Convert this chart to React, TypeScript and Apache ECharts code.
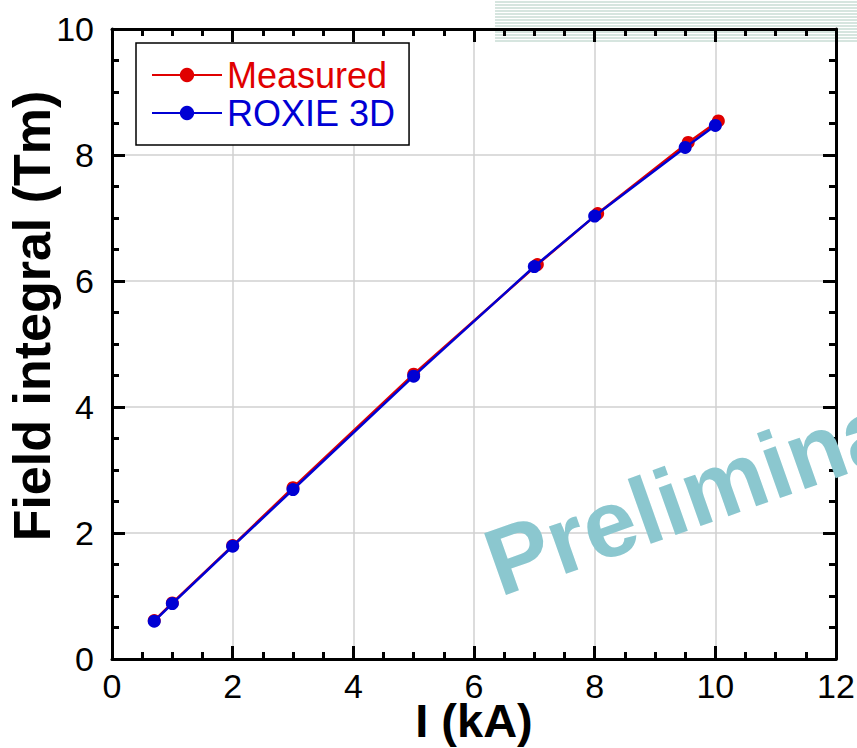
import React, { useEffect, useRef } from "react";
import * as echarts from "echarts";

const xMeasured = [0.7, 1.0, 2.0, 3.0, 5.0, 7.05, 8.05, 9.55, 10.05];
const yMeasured = [0.61, 0.89, 1.8, 2.72, 4.52, 6.26, 7.07, 8.2, 8.54];
const xRoxie = [0.7, 1.0, 2.0, 3.0, 5.0, 7.0, 8.0, 9.5, 10.0];
const yRoxie = [0.6, 0.88, 1.79, 2.69, 4.49, 6.23, 7.03, 8.12, 8.47];
const seriesNames = ["Measured", "ROXIE 3D"];
const xTitle = "I (kA)";
const yTitle = "Field integral (Tm)";
const watermark = "Preliminary";

const RED = "#e00000";
const BLUE = "#0000d4";
const FONT = "'Liberation Sans', Arial, sans-serif";

function axisCommon(showLabel: boolean) {
  return {
    type: "value" as const,
    axisLine: { show: true, onZero: false, lineStyle: { color: "#000", width: 3 } },
    axisTick: { show: true, inside: true, length: 13, lineStyle: { color: "#000", width: 3 } },
    minorTick: { show: true, splitNumber: 4, length: 7, lineStyle: { color: "#000", width: 3 } },
    axisLabel: { show: showLabel, fontSize: 34, color: "#000", fontFamily: FONT },
  };
}

export default function App() {
  const ref = useRef<HTMLDivElement>(null);
  useEffect(() => {
    if (!ref.current) return;
    const chart = echarts.init(ref.current, undefined, { renderer: "svg" });
    const hatch: any[] = [];
    for (let i = 0; i < 14; i++) {
      hatch.push({
        type: "line",
        z: -10,
        shape: { x1: 495, y1: 2 + 3 * i, x2: 857, y2: 2 + 3 * i },
        style: { stroke: "#c9ddd5", lineWidth: 1.5 },
      });
    }
    chart.setOption({
      animation: false,
      backgroundColor: "#fff",
      textStyle: { fontFamily: FONT },
      grid: {
        left: 112,
        top: 29,
        right: 21,
        bottom: 89,
        containLabel: false,
        outerBoundsMode: "none",
      },
      legend: {
        left: 136,
        top: 43,
        orient: "vertical",
        padding: [14, 14, 14, 15],
        itemGap: 2,
        itemWidth: 70,
        itemHeight: 18,
        borderColor: "#000",
        borderWidth: 1.5,
        backgroundColor: "#fff",
        textStyle: { fontSize: 36, fontFamily: FONT },
        data: [
          { name: seriesNames[0], textStyle: { color: RED } },
          { name: seriesNames[1], textStyle: { color: BLUE } },
        ],
      },
      xAxis: [
        {
          ...axisCommon(true),
          position: "bottom",
          min: 0,
          max: 12,
          interval: 2,
          axisLabel: { ...axisCommon(true).axisLabel, margin: 10 },
          splitLine: { show: true, lineStyle: { color: "#d0d0d0", width: 1.5 } },
          name: xTitle,
          nameLocation: "middle",
          nameGap: 38,
          nameMoveOverlap: false,
          nameTextStyle: { fontSize: 47, fontWeight: "bold", color: "#000", fontFamily: FONT },
        },
        {
          ...axisCommon(false),
          position: "top",
          min: 0,
          max: 12,
          interval: 2,
          splitLine: { show: false },
        },
      ],
      yAxis: [
        {
          ...axisCommon(true),
          position: "left",
          min: 0,
          max: 10,
          interval: 2,
          axisLabel: { ...axisCommon(true).axisLabel, margin: 18 },
          splitLine: { show: true, lineStyle: { color: "#d0d0d0", width: 1.5 } },
          name: yTitle,
          nameLocation: "middle",
          nameGap: 54,
          nameMoveOverlap: false,
          nameTextStyle: {
            fontSize: 52,
            fontWeight: "bold",
            color: "#000",
            fontFamily: FONT,
            padding: [0, 0, 0, 56],
          },
        },
        {
          ...axisCommon(false),
          position: "right",
          min: 0,
          max: 10,
          interval: 2,
          splitLine: { show: false },
        },
      ],
      series: [
        {
          name: seriesNames[0],
          type: "line",
          xAxisIndex: 0,
          yAxisIndex: 0,
          data: xMeasured.map((x, i) => [x, yMeasured[i]]),
          symbol: "circle",
          symbolSize: 13,
          itemStyle: { color: RED },
          lineStyle: { color: RED, width: 2.5 },
          z: 3,
        },
        {
          name: seriesNames[1],
          type: "line",
          xAxisIndex: 0,
          yAxisIndex: 0,
          data: xRoxie.map((x, i) => [x, yRoxie[i]]),
          symbol: "circle",
          symbolSize: 13,
          itemStyle: { color: BLUE },
          lineStyle: { color: BLUE, width: 2.5 },
          z: 4,
        },
      ],
      graphic: [
        ...hatch,
        {
          type: "text",
          z: 100,
          x: 489,
          y: 566,
          rotation: (19.5 * Math.PI) / 180,
          style: {
            text: watermark,
            fontSize: 95,
            fontWeight: "bold",
            fontFamily: FONT,
            fill: "#8bc7cf",
            align: "left",
            verticalAlign: "middle",
          },
        },
      ],
    });
    return () => chart.dispose();
  }, []);
  return (
    <div
      ref={ref}
      style={{ position: "fixed", left: 0, top: 0, width: 857, height: 748 }}
    />
  );
}
